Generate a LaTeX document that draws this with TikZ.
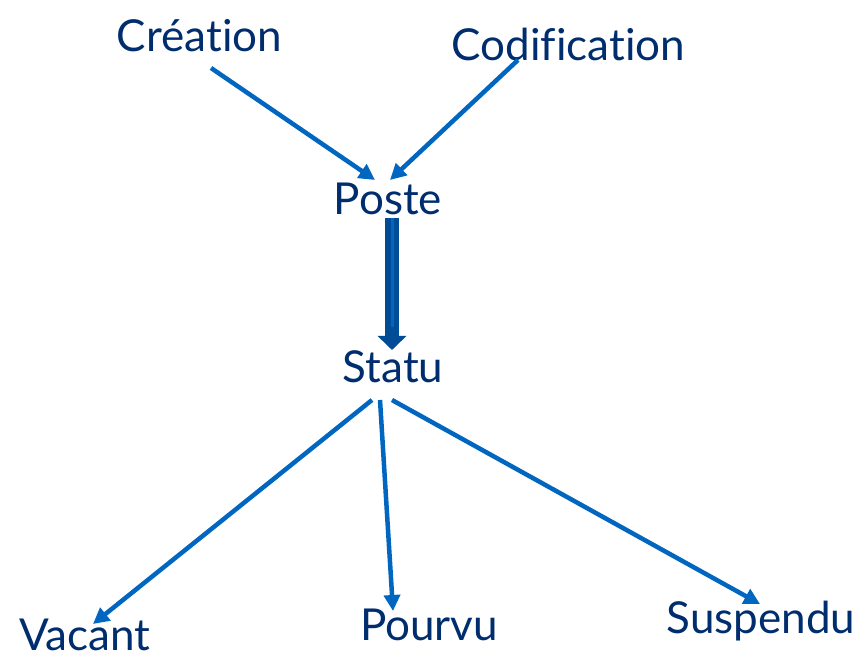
\documentclass[tikz,border=0pt]{standalone}
\usepackage{fontspec}
\setmainfont{Lato}[Ligatures={NoCommon,NoRare}]
\usetikzlibrary{arrows.meta,positioning}
\definecolor{postnavy}{RGB}{0,45,110}
\definecolor{postblue}{RGB}{0,102,192}
\definecolor{postdark}{RGB}{0,76,150}

\begin{document}
\begin{tikzpicture}[x=1pt, y=1pt,
    lbl/.style={anchor=base, inner sep=0pt, text=postnavy, font=\fontsize{44}{50}\selectfont},
    flow/.style={postblue, line width=4.5pt, -{Triangle[length=16pt, width=16pt]}},
    bigflow/.style={postdark, line width=14pt, -{Triangle[length=14pt, width=28pt]}}]
  \useasboundingbox (0,0) rectangle (866,660);
  % --- labels ---
  \node[lbl] (creation) at (199.5,608) {Création};
  \node[lbl] (codif) at (568.5,599) {Codification};
  \node[lbl] (poste) at (388,445) {Poste};
  \node[lbl] (statu) at (393,277) {Statu};
  \node[lbl] (vacant) at (85,9) {Vacant};
  \node[lbl] (pourvu) at (429,19) {Pourvu};
  \node[lbl] (suspendu) at (761,26) {Suspendu};
  % --- into Poste ---
  \draw[flow] ([shift={(11.5,-16)}]creation.base) -- ([shift={(-13,35)}]poste.base);
  \draw[flow] ([shift={(-50.5,1)}]codif.base) -- ([shift={(2,35)}]poste.base);
  % --- Poste to Statu ---
  \draw[bigflow] ([shift={(4,-3)}]poste.base) -- ([shift={(-1,33)}]statu.base);
  \draw[postblue, line width=3pt] ([shift={(4,-3)}]poste.base) -- ([shift={(4,-112)}]poste.base);
  % --- out of Statu ---
  \draw[flow] ([shift={(-21,-17)}]statu.base) -- ([shift={(8,27)}]vacant.base);
  \draw[flow] ([shift={(-13,-17)}]statu.base) -- ([shift={(-36,30)}]pourvu.base);
  \draw[flow] ([shift={(-1,-17)}]statu.base) -- ([shift={(-1,30)}]suspendu.base);
\end{tikzpicture}
\end{document}
